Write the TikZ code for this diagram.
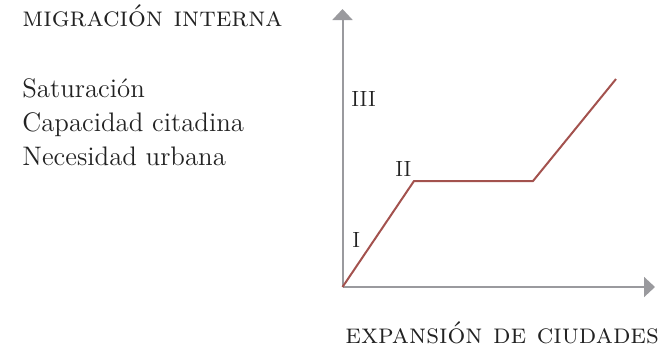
\documentclass[tikz,border=0pt]{standalone}
\usepackage{fontspec}
\usepackage{tikz}
\usetikzlibrary{arrows.meta}

\definecolor{axisgray}{HTML}{9A9A9E}
\definecolor{curvered}{HTML}{A3524E}
\definecolor{inkgray}{HTML}{222222}

\begin{document}
\begin{tikzpicture}[
                x=0.5pt, y=-0.5pt, % one unit is one pixel of the sketch
                axis/.style={draw=axisgray, line width=1pt, -{Triangle[width=10pt,length=5.5pt]}}, % grey axes
                curve/.style={draw=curvered, line width=1pt, line join=miter}, % the red line
                every node/.style={inner sep=0pt, text=inkgray}, % no padding round the texts
                caption/.style={anchor=base west, font=\fontsize{14}{16}\selectfont\scshape\addfontfeatures{LetterSpace=15}},
                factor/.style={anchor=base west, font=\fontsize{13.4}{17}\selectfont},
                stage/.style={anchor=base west, font=\fontsize{11}{13}\selectfont\addfontfeatures{LetterSpace=20}}
                ]
                \useasboundingbox (0,0) rectangle (663,350);
                % axes
                \coordinate (o) at (342.5,287);
                \coordinate (ytop) at (342.5,9);
                \coordinate (xend) at (655,287);
                \draw[axis] (o) -- (ytop);
                \draw[axis] (o) -- (xend);
                % the line
                \coordinate (p1) at (414,181);
                \coordinate (p2) at (533,181);
                \coordinate (p3) at (616,79);
                \draw[curve] (o) -- (p1) -- (p2) -- (p3);
                % texts
                \node[caption] (ylabel) at (22,26) {migración interna};
                \node[caption] (xlabel) at (345,343) {expansión de ciudades};
                \node[factor] (sat) at (22,97) {Saturación};
                \node[factor] (cap) at (22,131) {Capacidad citadina};
                \node[factor] (nec) at (22,165) {Necesidad urbana};
                \node[stage] (st1) at (352,247) {I};
                \node[stage] (st2) at (395,176) {II};
                \node[stage] (st3) at (351,106) {III};
            \end{tikzpicture}
\end{document}
